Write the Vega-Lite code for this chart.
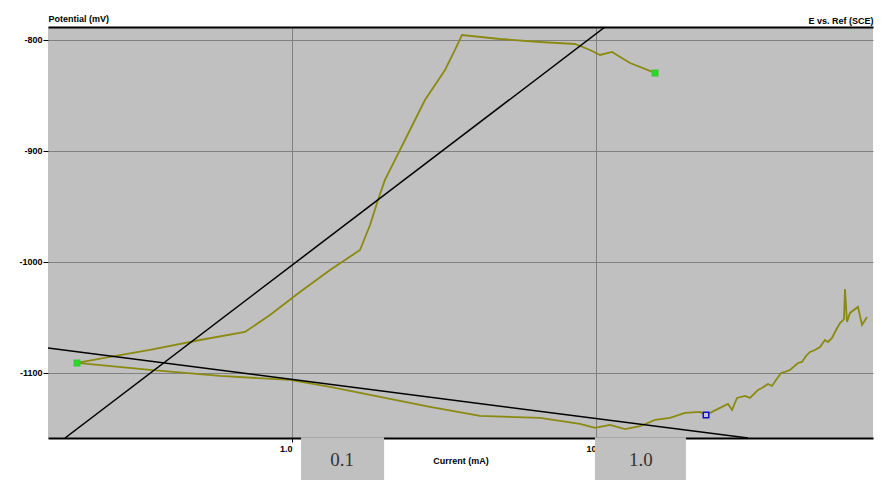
{
  "$schema": "https://vega.github.io/schema/vega-lite/v6.json",
  "width": 825,
  "height": 411,
  "autosize": {"type": "none"},
  "padding": {"left": 48, "top": 27, "right": 20, "bottom": 42},
  "background": "white",
  "config": {
    "view": {"fill": "#c0c0c0", "stroke": null},
    "font": "Liberation Sans"
  },
  "datasets": {
    "curve": [
      {"ord": 1, "cur": 1.564, "E": -829.7},
      {"ord": 2, "cur": 1.294, "E": -820.7},
      {"ord": 3, "cur": 1.129, "E": -810.8},
      {"ord": 4, "cur": 1.031, "E": -813.5},
      {"ord": 5, "cur": 0.9556, "E": -809.0},
      {"ord": 6, "cur": 0.853, "E": -803.6},
      {"ord": 7, "cur": 0.6543, "E": -801.8},
      {"ord": 8, "cur": 0.4833, "E": -799.1},
      {"ord": 9, "cur": 0.3624, "E": -795.5},
      {"ord": 10, "cur": 0.3437, "E": -809.0},
      {"ord": 11, "cur": 0.3186, "E": -827.0},
      {"ord": 12, "cur": 0.2954, "E": -840.5},
      {"ord": 13, "cur": 0.2738, "E": -854.1},
      {"ord": 14, "cur": 0.2538, "E": -872.1},
      {"ord": 15, "cur": 0.2353, "E": -890.1},
      {"ord": 16, "cur": 0.2182, "E": -908.1},
      {"ord": 17, "cur": 0.2022, "E": -926.1},
      {"ord": 18, "cur": 0.1918, "E": -944.1},
      {"ord": 19, "cur": 0.1806, "E": -966.7},
      {"ord": 20, "cur": 0.1674, "E": -989.2},
      {"ord": 21, "cur": 0.1334, "E": -1007.2},
      {"ord": 22, "cur": 0.1062, "E": -1027.0},
      {"ord": 23, "cur": 0.08464, "E": -1047.7},
      {"ord": 24, "cur": 0.07005, "E": -1063.1},
      {"ord": 25, "cur": 0.04982, "E": -1070.3},
      {"ord": 26, "cur": 0.0341, "E": -1079.3},
      {"ord": 27, "cur": 0.0252, "E": -1085.6},
      {"ord": 28, "cur": 0.01963, "E": -1091.0},
      {"ord": 29, "cur": 0.0341, "E": -1097.3},
      {"ord": 30, "cur": 0.05797, "E": -1102.7},
      {"ord": 31, "cur": 0.09849, "E": -1106.3},
      {"ord": 32, "cur": 0.1334, "E": -1112.6},
      {"ord": 33, "cur": 0.1948, "E": -1121.6},
      {"ord": 34, "cur": 0.2844, "E": -1130.6},
      {"ord": 35, "cur": 0.4153, "E": -1138.7},
      {"ord": 36, "cur": 0.6543, "E": -1140.5},
      {"ord": 37, "cur": 0.8858, "E": -1145.9},
      {"ord": 38, "cur": 0.9925, "E": -1149.5},
      {"ord": 39, "cur": 1.112, "E": -1146.8},
      {"ord": 40, "cur": 1.246, "E": -1150.5},
      {"ord": 41, "cur": 1.395, "E": -1148.0},
      {"ord": 42, "cur": 1.564, "E": -1142.3},
      {"ord": 43, "cur": 1.752, "E": -1140.5},
      {"ord": 44, "cur": 1.962, "E": -1136.0},
      {"ord": 45, "cur": 2.198, "E": -1135.1},
      {"ord": 46, "cur": 2.301, "E": -1137.8},
      {"ord": 47, "cur": 2.558, "E": -1131.5},
      {"ord": 48, "cur": 2.718, "E": -1127.9},
      {"ord": 49, "cur": 2.802, "E": -1133.3},
      {"ord": 50, "cur": 2.91, "E": -1122.5},
      {"ord": 51, "cur": 3.091, "E": -1120.7},
      {"ord": 52, "cur": 3.211, "E": -1122.5},
      {"ord": 53, "cur": 3.411, "E": -1115.3},
      {"ord": 54, "cur": 3.516, "E": -1113.5},
      {"ord": 55, "cur": 3.679, "E": -1109.9},
      {"ord": 56, "cur": 3.793, "E": -1111.7},
      {"ord": 57, "cur": 3.91, "E": -1106.3},
      {"ord": 58, "cur": 4.061, "E": -1100.0},
      {"ord": 59, "cur": 4.185, "E": -1099.1},
      {"ord": 60, "cur": 4.347, "E": -1097.3},
      {"ord": 61, "cur": 4.618, "E": -1091.0},
      {"ord": 62, "cur": 4.76, "E": -1090.1},
      {"ord": 63, "cur": 4.906, "E": -1084.7},
      {"ord": 64, "cur": 5.057, "E": -1081.1},
      {"ord": 65, "cur": 5.252, "E": -1079.3},
      {"ord": 66, "cur": 5.455, "E": -1076.6},
      {"ord": 67, "cur": 5.665, "E": -1070.3},
      {"ord": 68, "cur": 5.797, "E": -1072.1},
      {"ord": 69, "cur": 5.975, "E": -1068.5},
      {"ord": 70, "cur": 6.159, "E": -1061.3},
      {"ord": 71, "cur": 6.348, "E": -1055.0},
      {"ord": 72, "cur": 6.543, "E": -1051.4},
      {"ord": 73, "cur": 6.593, "E": -1024.3},
      {"ord": 74, "cur": 6.694, "E": -1054.1},
      {"ord": 75, "cur": 6.847, "E": -1045.9},
      {"ord": 76, "cur": 7.275, "E": -1040.5},
      {"ord": 77, "cur": 7.499, "E": -1056.8},
      {"ord": 78, "cur": 7.788, "E": -1049.5}
    ],
    "fits": [
      {"fit": "anodic", "cur": 0.01792, "E": -1158.6},
      {"fit": "anodic", "cur": 1.0705, "E": -788.3},
      {"fit": "cathodic", "cur": 0.015753, "E": -1077.5},
      {"fit": "cathodic", "cur": 3.1623, "E": -1158.6}
    ],
    "points": [
      {"kind": "start", "cur": 0.01963, "E": -1091.0},
      {"kind": "end", "cur": 1.564, "E": -829.7},
      {"kind": "ref", "cur": 2.301, "E": -1137.8}
    ],
    "boxes": [
      {"label": "0.1", "x1": 0.1071, "x2": 0.2009, "xc": 0.1461, "y1": -1158.0, "y2": -1200.0, "yc": -1178.4},
      {"label": "1.0", "x1": 0.992, "x2": 1.977, "xc": 1.406, "y1": -1158.0, "y2": -1200.0, "yc": -1178.4}
    ]
  },
  "resolve": {"axis": {"x": "independent", "y": "independent"}},
  "layer": [
    {
      "data": {"name": "curve"},
      "mark": {"type": "line", "color": "#8a8a12", "strokeWidth": 1.8, "clip": true},
      "encoding": {
        "x": {
          "field": "cur", "type": "quantitative",
          "scale": {"type": "log", "domain": [0.015753, 8.151], "nice": false},
          "axis": {
            "orient": "bottom", "values": [0.1, 1], "grid": true, "gridColor": "#808080", "gridWidth": 1,
            "domain": true, "domainColor": "black", "domainWidth": 2,
            "ticks": true, "tickColor": "black", "tickSize": 4,
            "labelExpr": "datum.value < 0.5 ? '1.0' : '10'",
            "labelAlign": "right", "labelFontSize": 9, "labelFontWeight": "bold", "labelColor": "black", "labelPadding": 2,
            "title": "Current (mA)", "titleFontSize": 9, "titleFontWeight": "bold", "titleColor": "black", "titlePadding": 3
          }
        },
        "y": {
          "field": "E", "type": "quantitative",
          "scale": {"domain": [-1158.6, -788.3], "nice": false, "zero": false},
          "axis": {
            "orient": "left", "values": [-800, -900, -1000, -1100], "grid": true, "gridColor": "#808080", "gridWidth": 1,
            "domain": false, "ticks": true, "tickColor": "black", "tickSize": 5,
            "labelExpr": "toString(datum.value)",
            "labelFontSize": 9, "labelFontWeight": "bold", "labelColor": "black", "labelPadding": 1,
            "title": "Potential (mV)", "titleAngle": 0, "titleAlign": "left", "titleBaseline": "bottom",
            "titleX": 0, "titleY": -4, "titleFontSize": 9, "titleFontWeight": "bold", "titleColor": "black"
          }
        },
        "order": {"field": "ord", "type": "quantitative"}
      }
    },
    {
      "data": {"name": "fits"},
      "mark": {"type": "line", "color": "black", "strokeWidth": 1.5, "clip": true},
      "encoding": {
        "x": {
          "field": "cur", "type": "quantitative",
          "scale": {"type": "log", "domain": [0.015753, 8.151], "nice": false},
          "axis": {
            "orient": "top", "grid": false, "labels": false, "ticks": false,
            "domain": true, "domainColor": "black", "domainWidth": 2,
            "title": "E vs. Ref (SCE)", "titleAnchor": "end", "titleFontSize": 9, "titleFontWeight": "bold",
            "titleColor": "black", "titlePadding": 2
          }
        },
        "y": {"field": "E", "type": "quantitative", "axis": null},
        "detail": {"field": "fit"}
      }
    },
    {
      "data": {"name": "points"},
      "mark": {"type": "point", "shape": "square", "size": 30, "strokeWidth": 1.5, "clip": true},
      "encoding": {
        "x": {"field": "cur", "type": "quantitative", "axis": null},
        "y": {"field": "E", "type": "quantitative", "axis": null},
        "fill": {"field": "kind", "type": "nominal", "scale": {"domain": ["start", "end", "ref"], "range": ["#22dd22", "#22dd22", "#c8c8e0"]}, "legend": null},
        "stroke": {"field": "kind", "type": "nominal", "scale": {"domain": ["start", "end", "ref"], "range": ["#33cc33", "#33cc33", "#1010c0"]}, "legend": null},
        "opacity": {"value": 1}
      }
    },
    {
      "data": {"name": "boxes"},
      "mark": {"type": "rect", "color": "#c0c0c0", "clip": false},
      "encoding": {
        "x": {"field": "x1", "type": "quantitative", "axis": null},
        "x2": {"field": "x2"},
        "y": {"field": "y1", "type": "quantitative", "axis": null},
        "y2": {"field": "y2"}
      }
    },
    {
      "data": {"name": "boxes"},
      "mark": {"type": "text", "font": "Liberation Serif", "fontSize": 19, "color": "#333333", "baseline": "middle", "align": "center", "clip": false},
      "encoding": {
        "x": {"field": "xc", "type": "quantitative", "axis": null},
        "y": {"field": "yc", "type": "quantitative", "axis": null},
        "text": {"field": "label"}
      }
    }
  ]
}
